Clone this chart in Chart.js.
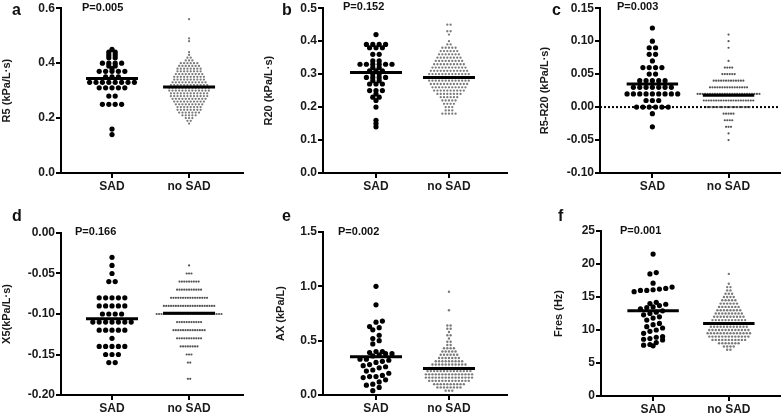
<!DOCTYPE html>
<html>
<head>
<meta charset="utf-8">
<script src="https://cdn.jsdelivr.net/npm/chart.js@4.4.0/dist/chart.umd.min.js"></script>
<style>
  body { margin: 0; background: #fff; width: 784px; height: 415px; position: relative; overflow: hidden;
         font-family: "Liberation Sans", Arial, sans-serif; }
  .box { position: absolute; }
  .txt { position: absolute; font-weight: bold; color: #111; white-space: nowrap; }
  .letter { font-size: 16px; line-height: 16px; }
  .pval { font-size: 11px; line-height: 11px; }
</style>
</head>
<body>
<script>
// ---- data ----
const groups = ["SAD", "no SAD"];
const letters = ["a", "b", "c", "d", "e", "f"];
const yTitles = ["R5 (kPa/L\u00b7s)", "R20 (kPa/L\u00b7s)", "R5-R20 (kPa/L\u00b7s)", "X5(kPa/L\u00b7s)", "AX (kPa/L)", "Fres (Hz)"];
const pTexts = ["P=0.005", "P=0.152", "P=0.003", "P=0.166", "P=0.002", "P=0.001"];
const yTickVals = [
  [0, 0.2, 0.4, 0.6],
  [0, 0.1, 0.2, 0.3, 0.4, 0.5],
  [-0.10, -0.05, 0, 0.05, 0.10, 0.15],
  [-0.20, -0.15, -0.10, -0.05, 0],
  [0, 0.5, 1.0, 1.5],
  [0, 5, 10, 15, 20, 25]
];
const meanSad = [0.344, 0.305, 0.035, -0.106, 0.352, 12.9];
const meanNoSad = [0.313, 0.290, 0.018, -0.099, 0.245, 11.0];

// a: R5
const r5SadLevels = [0.45, 0.44, 0.43, 0.42, 0.40, 0.39, 0.38, 0.37, 0.35, 0.33, 0.31, 0.28, 0.25, 0.16, 0.14];
const r5SadCounts = [1, 2, 2, 2, 4, 2, 1, 5, 3, 8, 5, 2, 4, 1, 1];
const r5NoLevels = [0.56, 0.49, 0.48, 0.44, 0.43, 0.42, 0.41, 0.40, 0.39, 0.38, 0.37, 0.36, 0.35, 0.34, 0.33, 0.32,
                    0.31, 0.30, 0.29, 0.28, 0.27, 0.26, 0.25, 0.24, 0.23, 0.22, 0.21, 0.20, 0.19, 0.18];
const r5NoCounts = [1, 1, 1, 1, 1, 2, 3, 6, 7, 8, 8, 9, 10, 10, 11, 12, 13, 13, 12, 12, 11, 10, 9, 8, 8, 7, 5, 3, 2, 1];

// b: R20
const r20SadLevels = [0.42, 0.39, 0.38, 0.36, 0.34, 0.33, 0.32, 0.31, 0.30, 0.29, 0.28, 0.27, 0.25, 0.24, 0.23, 0.22, 0.20, 0.16, 0.15, 0.14];
const r20SadCounts = [1, 4, 3, 2, 2, 6, 2, 3, 2, 4, 2, 3, 3, 1, 2, 1, 1, 1, 1, 1];
const r20NoLevels = [0.45, 0.43, 0.42, 0.40, 0.39, 0.38, 0.37, 0.36, 0.35, 0.34, 0.33, 0.32, 0.31, 0.30, 0.29,
                     0.28, 0.27, 0.26, 0.25, 0.24, 0.23, 0.22, 0.21, 0.20, 0.19, 0.18];
const r20NoCounts = [2, 2, 1, 1, 2, 5, 6, 7, 8, 9, 10, 11, 12, 13, 15, 13, 12, 11, 10, 8, 6, 5, 4, 3, 3, 5];

// c: R5-R20
const diffSadLevels = [0.12, 0.10, 0.09, 0.08, 0.07, 0.06, 0.05, 0.04, 0.03, 0.02, 0.01, 0.00, -0.01, -0.03];
const diffSadCounts = [1, 1, 2, 2, 1, 4, 2, 5, 7, 9, 3, 6, 1, 1];
const diffNoLevels = [0.11, 0.10, 0.09, 0.07, 0.06, 0.05, 0.04, 0.03, 0.02, 0.01, 0.00, -0.01, -0.02, -0.03, -0.04, -0.05];
const diffNoCounts = [1, 1, 1, 1, 4, 6, 13, 16, 26, 21, 18, 5, 4, 3, 1, 1];

// d: X5
const x5SadLevels = [-0.03, -0.04, -0.05, -0.06, -0.08, -0.09, -0.10, -0.11, -0.12, -0.13, -0.14, -0.15, -0.16];
const x5SadCounts = [1, 1, 1, 2, 5, 5, 4, 7, 5, 1, 5, 3, 2];
const x5NoLevels = [-0.04, -0.05, -0.06, -0.07, -0.08, -0.09, -0.10, -0.11, -0.12, -0.13, -0.14, -0.15, -0.16, -0.18];
const x5NoCounts = [1, 3, 9, 11, 16, 22, 28, 11, 14, 11, 8, 3, 2, 2];

// e: AX
const axSad = [1.00, 0.83, 0.68, 0.67, 0.63, 0.62, 0.60, 0.55, 0.52, 0.50, 0.47, 0.40, 0.40, 0.39, 0.38, 0.38, 0.37, 0.36,
               0.33, 0.33, 0.32, 0.31, 0.30, 0.28, 0.27, 0.26, 0.25, 0.23, 0.22, 0.20, 0.18, 0.17, 0.17, 0.16, 0.14,
               0.12, 0.10, 0.09, 0.07, 0.04];
const axNoLevels = [0.95, 0.78, 0.64, 0.61, 0.58, 0.55, 0.52, 0.49, 0.46, 0.43, 0.40, 0.37, 0.34, 0.31, 0.28,
                    0.25, 0.22, 0.19, 0.16, 0.13, 0.10, 0.07, 0.04];
const axNoCounts = [1, 1, 2, 2, 1, 2, 1, 2, 2, 4, 5, 6, 7, 9, 11, 13, 14, 15, 15, 13, 10, 8, 3];

// f: Fres
const fresSad = [21.5, 18.7, 18.5, 17.1, 16.5, 16.3, 16.2, 16.1, 16.0, 16.0, 15.8, 14.2, 14.0, 13.9, 13.7, 13.5, 13.4,
                 13.2, 12.9, 12.7, 12.5, 12.3, 12.0, 11.8, 11.5, 11.0, 10.8, 10.5, 10.3, 10.0, 9.8, 9.5, 9.0, 8.9,
                 8.7, 8.6, 8.5, 8.1, 7.8, 7.7, 7.6];
const fresNoLevels = [18.5, 17.0, 16.5, 16.0, 15.5, 15.0, 14.5, 14.0, 13.5, 13.0, 12.5, 12.0, 11.5, 11.0, 10.5,
                      10.0, 9.5, 9.0, 8.5, 8.0, 7.5, 7.0];
const fresNoCounts = [1, 1, 2, 2, 3, 4, 5, 6, 7, 8, 9, 10, 11, 12, 12, 13, 14, 13, 11, 7, 4, 2];

function expand(levels, counts) {
  const out = [];
  levels.forEach((v, i) => { for (let k = 0; k < counts[i]; k++) out.push(v); });
  return out;
}

const sadValues = [
  expand(r5SadLevels, r5SadCounts), expand(r20SadLevels, r20SadCounts), expand(diffSadLevels, diffSadCounts),
  expand(x5SadLevels, x5SadCounts), axSad, fresSad
];
const noSadValues = [
  expand(r5NoLevels, r5NoCounts), expand(r20NoLevels, r20NoCounts), expand(diffNoLevels, diffNoCounts),
  expand(x5NoLevels, x5NoCounts), expand(axNoLevels, axNoCounts), expand(fresNoLevels, fresNoCounts)
];

// ---- layout / style per panel ----
const panels = [
  { box: [0, 0, 250, 200],   padL: 0,  axisW: 61, padT: 8,  padR: 7, axisH: 27, xr: [0.338, 2.70], dec: 1, sadBin: 0.01, noBin: 0.01, noPitch: 3.3, noR: 1.15, noColor: "#7a7a7a" },
  { box: [262, 0, 250, 200], padL: 0,  axisW: 61, padT: 6,  padR: 5, axisH: 27, xr: [0.274, 2.795], dec: 1, sadBin: 0.01, noBin: 0.01, noPitch: 3.3, noR: 1.15, noColor: "#7a7a7a" },
  { box: [520, 0, 264, 200], padL: 18, axisW: 62, padT: 8,  padR: 2, axisH: 27, xr: [0.312, 2.676], dec: 2, sadBin: 0.01, noBin: 0.01, noPitch: 2.5, noR: 1.1, noColor: "#555", zeroLine: true },
  { box: [0, 200, 250, 215], padL: 0,  axisW: 61, padT: 33, padR: 7, axisH: 20, xr: [0.338, 2.70], dec: 2, sadBin: 0.01, noBin: 0.01, noPitch: 2.4, noR: 1.1, noColor: "#555" },
  { box: [262, 200, 250, 215], padL: 12, axisW: 49, padT: 32, padR: 5, axisH: 20, xr: [0.274, 2.795], dec: 1, sadBin: 0.06, noBin: 0.03, noPitch: 3.3, noR: 1.2, noColor: "#7a7a7a" },
  { box: [520, 200, 264, 215], padL: 32, axisW: 49, padT: 31, padR: 2, axisH: 19, xr: [0.312, 2.676], dec: 0, sadBin: 0.9, noBin: 0.5, noPitch: 3.3, noR: 1.2, noColor: "#7a7a7a" }
];
const sadPitch = 6.4;
const meanHalfW = 26;
const letterPos = [[12, 2], [282, 2], [552, 2], [12, 208], [282, 208], [558, 208]];
const pPos = [[82, 2], [343, 1], [617, 1], [75, 226], [338, 226], [620, 225]];

function swarm(values, center, bin, pitch) {
  const rows = new Map();
  [...values].sort((a, b) => a - b).forEach(v => {
    const key = Math.round(v / bin);
    if (!rows.has(key)) rows.set(key, []);
    rows.get(key).push(v);
  });
  const pts = [];
  rows.forEach(row => {
    row.forEach((v, i) => pts.push({ x: center + (i - (row.length - 1) / 2) * pitch, y: v }));
  });
  return pts;
}

const tickFont = { family: "'Liberation Sans', Arial, sans-serif", size: 12, weight: "bold" };
const titleFont = { family: "'Liberation Sans', Arial, sans-serif", size: 11, weight: "bold" };

panels.forEach((p, i) => {
  const [left, top, w, h] = p.box;
  const wrap = document.createElement("div");
  wrap.className = "box";
  wrap.style.cssText = `left:${left}px;top:${top}px;width:${w}px;height:${h}px`;
  const cv = document.createElement("canvas");
  cv.width = w; cv.height = h;
  wrap.appendChild(cv);
  document.body.appendChild(wrap);

  const plotW = w - p.padL - p.axisW - p.padR;
  const unit = (p.xr[1] - p.xr[0]) / plotW;   // x units per pixel
  const ticks = yTickVals[i];
  const yMin = ticks[0], yMax = ticks[ticks.length - 1];

  const datasets = [
    { data: [{ x: 1 - meanHalfW * unit, y: meanSad[i] }, { x: 1 + meanHalfW * unit, y: meanSad[i] }],
      type: "line", borderColor: "#000", borderWidth: 3, pointRadius: 0, order: 0 },
    { data: [{ x: 2 - meanHalfW * unit, y: meanNoSad[i] }, { x: 2 + meanHalfW * unit, y: meanNoSad[i] }],
      type: "line", borderColor: "#000", borderWidth: 3, pointRadius: 0, order: 0 },
    { data: swarm(sadValues[i], 1, p.sadBin, sadPitch * unit), pointRadius: 2.6, backgroundColor: "#000",
      borderWidth: 0, order: 1 },
    { data: swarm(noSadValues[i], 2, p.noBin, p.noPitch * unit), pointRadius: p.noR, backgroundColor: p.noColor,
      borderWidth: 0, order: 1 }
  ];
  if (p.zeroLine) {
    datasets.push({ data: [{ x: p.xr[0], y: 0 }, { x: p.xr[1], y: 0 }], type: "line", borderColor: "#000",
      borderWidth: 2, borderDash: [2, 2], pointRadius: 0, order: 2 });
  }

  new Chart(cv, {
    type: "scatter",
    data: { datasets },
    options: {
      responsive: false,
      animation: false,
      events: [],
      layout: { padding: { left: p.padL, top: p.padT, right: p.padR, bottom: 0 } },
      plugins: { legend: { display: false }, tooltip: { enabled: false } },
      elements: { line: { tension: 0 } },
      scales: {
        x: {
          type: "linear", min: p.xr[0], max: p.xr[1],
          afterBuildTicks: s => { s.ticks = [{ value: 1 }, { value: 2 }]; },
          afterFit: s => { s.height = p.axisH; },
          ticks: { callback: v => groups[v - 1], font: tickFont, color: "#1a1a1a", padding: 1, maxRotation: 0, autoSkip: false },
          grid: { drawOnChartArea: false, drawTicks: true, tickLength: 5, color: "#000", lineWidth: 2 },
          border: { color: "#000", width: 2 }
        },
        y: {
          min: yMin, max: yMax,
          afterBuildTicks: s => { s.ticks = ticks.map(v => ({ value: v })); },
          afterFit: s => { s.width = p.axisW; },
          ticks: { callback: v => v.toFixed(p.dec), font: tickFont, color: "#1a1a1a", padding: 1, autoSkip: false },
          title: { display: true, text: yTitles[i], font: titleFont, color: "#1a1a1a", padding: 0 },
          grid: { drawOnChartArea: false, drawTicks: true, tickLength: 5, color: "#000", lineWidth: 2 },
          border: { color: "#000", width: 2 }
        }
      }
    }
  });

  const lt = document.createElement("div");
  lt.className = "txt letter";
  lt.style.left = letterPos[i][0] + "px";
  lt.style.top = letterPos[i][1] + "px";
  lt.textContent = letters[i];
  document.body.appendChild(lt);

  const pv = document.createElement("div");
  pv.className = "txt pval";
  pv.style.left = pPos[i][0] + "px";
  pv.style.top = pPos[i][1] + "px";
  pv.textContent = pTexts[i];
  document.body.appendChild(pv);
});
</script>
</body>
</html>
